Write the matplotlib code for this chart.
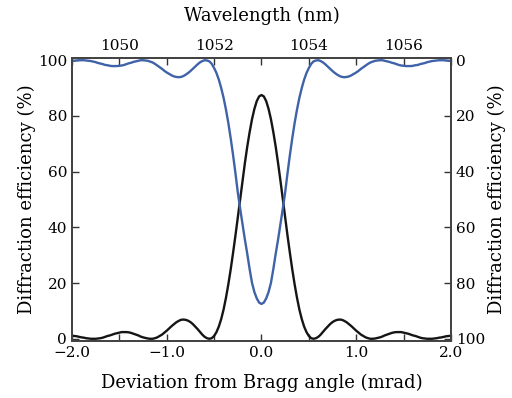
import numpy as np
import matplotlib
matplotlib.use('Agg')
import matplotlib.pyplot as plt
from matplotlib.ticker import MultipleLocator, FuncFormatter

# deviation from Bragg angle (mrad), sampled every 0.025
angle = np.linspace(-2.0, 2.0, 161)
# wavelength (nm), sampled every 0.05
wavelength = np.linspace(1049.0, 1057.0, 161)

# diffraction efficiency (%) vs angle -- black curve, left axis
eff_angle = [1.1, 1.0, 0.9, 0.7, 0.5, 0.4, 0.2, 0.1, 0.0, 0.0,
             0.0, 0.1, 0.2, 0.4, 0.7, 1.0, 1.2, 1.5, 1.8, 2.0,
             2.2, 2.4, 2.4, 2.4, 2.3, 2.1, 1.8, 1.5, 1.2, 0.8,
             0.5, 0.3, 0.1, 0.0, 0.0, 0.2, 0.5, 1.0, 1.5, 2.2,
             2.9, 3.7, 4.5, 5.2, 5.9, 6.4, 6.8, 6.9, 6.8, 6.5,
             6.0, 5.3, 4.4, 3.5, 2.5, 1.5, 0.7, 0.2, 0.0, 0.2,
             1.0, 2.4, 4.4, 7.1, 10.5, 14.7, 19.5, 24.9, 30.8, 37.0,
             43.6, 50.2, 56.8, 63.1, 69.0, 74.2, 78.8, 82.5, 85.3, 87.0,
             87.5,
             87.0, 85.3, 82.5, 78.8, 74.2, 69.0, 63.1, 56.8, 50.2, 43.6,
             37.0, 30.8, 24.9, 19.5, 14.7, 10.5, 7.1, 4.4, 2.4, 1.0,
             0.2, 0.0, 0.2, 0.7, 1.5, 2.5, 3.5, 4.4, 5.3, 6.0,
             6.5, 6.8, 6.9, 6.8, 6.4, 5.9, 5.2, 4.5, 3.7, 2.9,
             2.2, 1.5, 1.0, 0.5, 0.2, 0.0, 0.0, 0.1, 0.3, 0.5,
             0.8, 1.2, 1.5, 1.8, 2.1, 2.3, 2.4, 2.4, 2.4, 2.2,
             2.0, 1.8, 1.5, 1.2, 1.0, 0.7, 0.4, 0.2, 0.1, 0.0,
             0.0, 0.0, 0.1, 0.2, 0.4, 0.5, 0.7, 0.9, 1.0, 1.1]

# diffraction efficiency (%) vs wavelength -- blue curve, right (inverted) axis
eff_wl = [0.3, 0.2, 0.1, 0.0, 0.0, 0.0, 0.1, 0.2, 0.3, 0.5, 0.7, 1.0, 1.2, 1.4, 1.7, 1.8, 2.0, 2.1, 2.1, 2.1,
          2.0, 1.9, 1.7, 1.4, 1.1, 0.9, 0.6, 0.4, 0.2, 0.0, 0.0, 0.1, 0.2, 0.5, 0.8, 1.3, 1.9, 2.5, 3.1, 3.8,
          4.4, 4.9, 5.4, 5.8, 6.0, 6.1, 6.0, 5.7, 5.2, 4.6, 3.9, 3.1, 2.3, 1.5, 0.8, 0.3, 0.0, 0.1, 0.4, 1.3,
          2.8, 4.6, 7.0, 10.0, 13.5, 17.7, 22.5, 28.0, 34.0, 40.5, 47.4, 53.3, 58.9, 64.4, 69.5, 75.0, 79.9,
          83.2, 85.5, 87.0, 87.5, 87.0, 85.5, 83.2, 79.9, 75.0, 69.5, 64.4, 58.9, 53.3, 47.4, 40.5, 34.0, 28.0,
          22.5, 17.7, 13.5, 10.0, 7.0, 4.6, 2.8, 1.3, 0.4, 0.1, 0.0, 0.3, 0.8, 1.5, 2.3, 3.1, 3.9, 4.6, 5.2,
          5.7, 6.0, 6.1, 6.0, 5.8, 5.4, 4.9, 4.4, 3.8, 3.1, 2.5, 1.9, 1.3, 0.8, 0.5, 0.2, 0.1, 0.0, 0.0, 0.2,
          0.4, 0.6, 0.9, 1.1, 1.4, 1.7, 1.9, 2.0, 2.1, 2.1, 2.1, 2.0, 1.8, 1.7, 1.4, 1.2, 1.0, 0.7, 0.5, 0.3,
          0.2, 0.1, 0.0, 0.0, 0.0, 0.1, 0.2, 0.3]

plt.rcParams['font.family'] = ['DejaVu Serif']
plt.rcParams['font.size'] = 11

fig = plt.figure(figsize=(5.12, 3.98), dpi=100)
ax = fig.add_axes([0.1406, 0.1432, 0.7402, 0.7111])
ax2 = ax.twinx()
ax3 = ax2.twiny()

ax.plot(angle, eff_angle, color='#151515', lw=1.7)
ax3.plot(wavelength, eff_wl, color='#3f62a8', lw=1.7)

ylim = (-0.8, 100.8)
ax.set_xlim(-2.0, 2.0)
ax.set_ylim(*ylim)
ax2.set_ylim(ylim[1], ylim[0])
ax3.set_xlim(1049, 1057)

ax.xaxis.set_major_locator(MultipleLocator(1.0))
ax.xaxis.set_minor_locator(MultipleLocator(0.5))
ax.xaxis.set_major_formatter(FuncFormatter(lambda v, p: ('%.1f' % v).replace('-', '\u2212')))
ax.yaxis.set_major_locator(MultipleLocator(20))
ax2.yaxis.set_major_locator(MultipleLocator(20))
ax3.xaxis.set_major_locator(MultipleLocator(2))
ax3.xaxis.set_minor_locator(MultipleLocator(1))

for a in (ax, ax2, ax3):
    a.tick_params(which='both', direction='in', length=5, width=1, color='#333333')
    for sp in a.spines.values():
        sp.set_color('#444444')
        sp.set_linewidth(1.2)
ax.tick_params(top=False, right=False, which='both')
ax2.tick_params(left=False, which='both')
ax3.tick_params(bottom=False, which='both')

ax.set_xlabel('Deviation from Bragg angle (mrad)', fontsize=13, labelpad=10)
ax.set_ylabel('Diffraction efficiency (%)', fontsize=13, labelpad=1.5)
ax2.set_ylabel('Diffraction efficiency (%)', fontsize=13, rotation=90, labelpad=2)
ax3.set_xlabel('Wavelength (nm)', fontsize=13, labelpad=13)

fig.savefig('out.png', dpi=100)
